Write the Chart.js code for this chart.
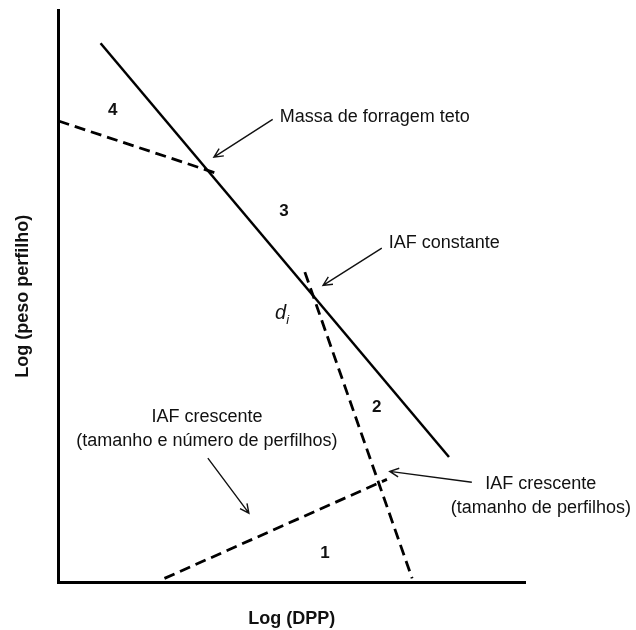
<!DOCTYPE html>
<html>
<head>
<meta charset="utf-8">
<title>Log (peso perfilho) x Log (DPP)</title>
<script src="https://cdn.jsdelivr.net/npm/chart.js@4.4.1/dist/chart.umd.min.js"></script>
<style>
  html, body { margin: 0; padding: 0; background: #fff; }
  #wrap { width: 636px; height: 630px; }
</style>
</head>
<body>
<div id="wrap"><canvas id="grafico" width="636" height="630"></canvas></div>
<script>
// eixos sem escala numerica: 0..100 nos dois sentidos
// linhas do diagrama, [x, y]
const linhaAutoDesbaste = [[9.0, 94.2], [83.7, 21.9]];
const linhaTeto = [[0, 80.6], [34.5, 71.3]];
const linhaIafConstante = [[52.8, 54.2], [75.8, 0.7]];
const linhaIafCrescente = [[22.7, 0.7], [70.4, 18.0]];

// numeros das fases
const fases = ['1', '2', '3', '4'];
const fasesX = [57.1, 68.2, 48.3, 11.6];
const fasesY = [5.1, 30.6, 64.9, 82.5];

// textos das anotacoes
const notas = [
  ['Massa de forragem teto'],
  ['IAF constante'],
  ['IAF crescente', '(tamanho e número de perfilhos)'],
  ['IAF crescente', '(tamanho de perfilhos)']
];
const notasX = [47.4, 70.8, 31.8, 103.4];
const notasY = [81.3, 59.3, 28.85, 17.15];
const notasAlinhamento = ['left', 'left', 'center', 'center'];

// setas: origem -> ponta
const setaDeX = [45.9, 69.3, 32.0, 88.6];
const setaDeY = [80.9, 58.4, 21.7, 17.5];
const setaAteX = [33.3, 56.7, 40.8, 71.0];
const setaAteY = [74.3, 51.9, 12.1, 19.4];

// ponto d_i
const pontoDi = [46.4, 47.0];

const fonte = '"Liberation Sans", Arial, sans-serif';

function paraPontos(linha) {
  return linha.map(p => ({ x: p[0], y: p[1] }));
}

function serie(linha, tracejado) {
  return {
    data: paraPontos(linha),
    showLine: true,
    borderColor: '#000',
    borderWidth: tracejado ? 2.8 : 2.5,
    borderDash: tracejado ? [11, 6] : [],
    pointRadius: 0,
    fill: false
  };
}

function desenharSeta(ctx, x1, y1, x2, y2) {
  const ang = Math.atan2(y2 - y1, x2 - x1);
  const tam = 10;
  ctx.beginPath();
  ctx.moveTo(x1, y1);
  ctx.lineTo(x2, y2);
  ctx.moveTo(x2 - tam * Math.cos(ang - 0.45), y2 - tam * Math.sin(ang - 0.45));
  ctx.lineTo(x2, y2);
  ctx.lineTo(x2 - tam * Math.cos(ang + 0.45), y2 - tam * Math.sin(ang + 0.45));
  ctx.stroke();
}

const anotacoes = {
  id: 'anotacoes',
  afterDraw(chart) {
    const ctx = chart.ctx;
    const sx = chart.scales.x;
    const sy = chart.scales.y;
    ctx.save();
    ctx.fillStyle = '#111';
    ctx.strokeStyle = '#111';
    ctx.textBaseline = 'middle';

    // fases
    ctx.font = 'bold 17px ' + fonte;
    ctx.textAlign = 'center';
    fases.forEach((f, i) => {
      ctx.fillText(f, sx.getPixelForValue(fasesX[i]), sy.getPixelForValue(fasesY[i]));
    });

    // notas
    ctx.font = '18px ' + fonte;
    notas.forEach((linhas, i) => {
      ctx.textAlign = notasAlinhamento[i];
      const px = sx.getPixelForValue(notasX[i]);
      const py = sy.getPixelForValue(notasY[i]);
      linhas.forEach((t, j) => ctx.fillText(t, px, py + j * 24));
    });

    // setas
    ctx.lineWidth = 1.4;
    for (let i = 0; i < setaDeX.length; i++) {
      desenharSeta(ctx,
        sx.getPixelForValue(setaDeX[i]), sy.getPixelForValue(setaDeY[i]),
        sx.getPixelForValue(setaAteX[i]), sy.getPixelForValue(setaAteY[i]));
    }

    // d_i
    const dx = sx.getPixelForValue(pontoDi[0]);
    const dy = sy.getPixelForValue(pontoDi[1]);
    ctx.textAlign = 'left';
    ctx.font = 'italic 20px ' + fonte;
    ctx.fillText('d', dx, dy);
    const w = ctx.measureText('d').width;
    ctx.font = 'italic 13px ' + fonte;
    ctx.fillText('i', dx + w, dy + 7);
    ctx.restore();
  }
};

const ctx = document.getElementById('grafico').getContext('2d');
new Chart(ctx, {
  type: 'scatter',
  data: {
    datasets: [
      serie(linhaAutoDesbaste, false),
      serie(linhaTeto, true),
      serie(linhaIafConstante, true),
      serie(linhaIafCrescente, true)
    ]
  },
  options: {
    responsive: false,
    animation: false,
    layout: { padding: { top: 10, right: 111, left: 0, bottom: 0 } },
    plugins: {
      legend: { display: false },
      tooltip: { enabled: false }
    },
    scales: {
      x: {
        type: 'linear',
        min: 0,
        max: 100,
        grid: { display: false, drawTicks: false },
        border: { display: true, color: '#000', width: 3 },
        ticks: { display: false },
        title: {
          display: true,
          text: 'Log (DPP)',
          color: '#111',
          font: { family: fonte, size: 18, weight: 'bold' },
          padding: { top: 26, bottom: 0 }
        }
      },
      y: {
        type: 'linear',
        min: 0,
        max: 100,
        grid: { display: false, drawTicks: false },
        border: { display: true, color: '#000', width: 3 },
        ticks: { display: false },
        title: {
          display: true,
          text: 'Log (peso perfilho)',
          color: '#111',
          font: { family: fonte, size: 18, weight: 'bold' },
          padding: { top: 12, bottom: 25 }
        }
      }
    }
  },
  plugins: [anotacoes]
});
</script>
</body>
</html>
